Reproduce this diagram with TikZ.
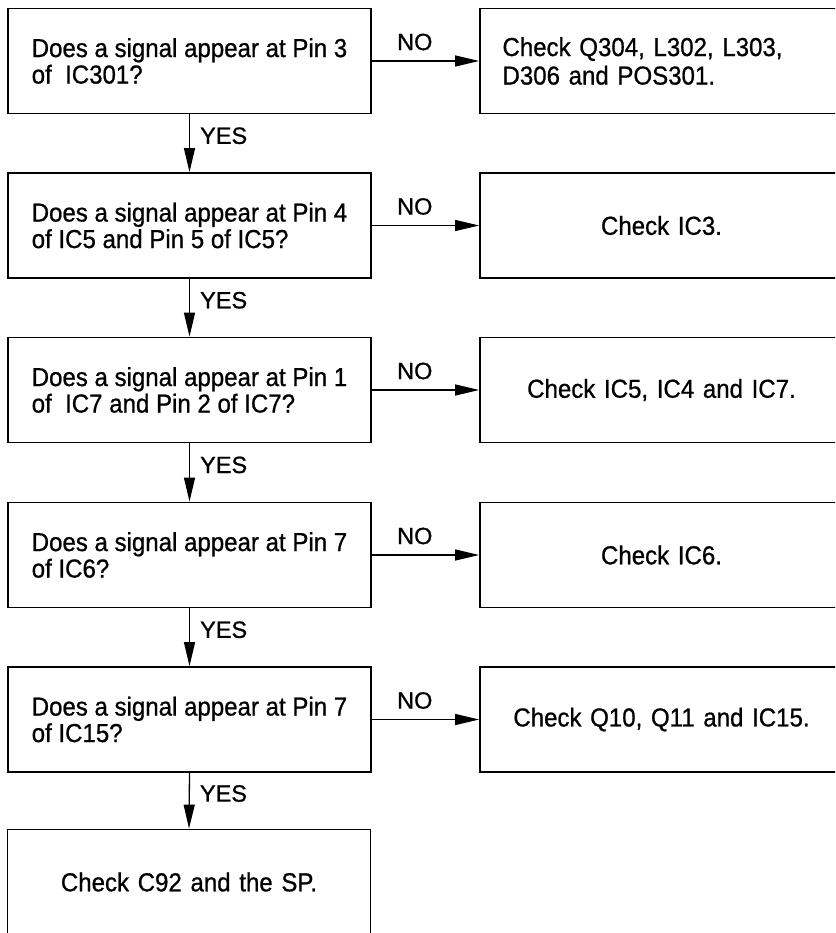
\documentclass[tikz,border=0pt]{standalone}
\usepackage{fontspec}
\setmainfont{Liberation Sans}[FakeBold=0.8]
\newfontfamily\boxfont{Liberation Sans}[FakeBold=0.8, FakeStretch=0.925]
\usetikzlibrary{arrows.meta}
\begin{document}
\begin{tikzpicture}[x=1pt,y=-1pt,
  box/.style={draw, line width=1.8pt, rectangle, minimum width=363pt, minimum height=105pt,
    inner xsep=0pt, inner ysep=0pt, font=\boxfont\fontsize{26}{26.5}\selectfont},
  qbox/.style={box, align=left},
  lbox/.style={box, text width=318pt, align=left, font=\boxfont\fontsize{26}{28.5}\selectfont},
  cbox/.style={box, text width=340pt, align=center},
  arr/.style={line width=1.3pt, -{Triangle[length=24pt,width=11pt]}},
  lab/.style={font=\fontsize{23.5}{25}\selectfont, inner sep=0pt}]
\useasboundingbox (0,0) rectangle (835,933);
\clip (0,0) rectangle (835,933);

\node[qbox] (q1) at (189.5,61) {Does a signal appear at Pin 3\\of\ \ IC301?};
\node[qbox] (q2) at (189.5,225.5) {Does a signal appear at Pin 4\\of IC5 and Pin 5 of IC5?};
\node[qbox] (q3) at (189.5,390) {Does a signal appear at Pin 1\\of\ \ IC7 and Pin 2 of IC7?};
\node[qbox] (q4) at (189.5,555) {Does a signal appear at Pin 7\\of IC6?};
\node[qbox] (q5) at (189.5,719.5) {Does a signal appear at Pin 7\\of IC15?};
\node[cbox] (q6) at (189,882) {Check C92 and the SP.};

\node[lbox] (r1) at (661.5,61) {Check Q304, L302, L303,\\D306 and POS301.};
\node[cbox] (r2) at (661.5,225.5) {Check IC3.};
\node[cbox] (r3) at (661.5,390) {Check IC5, IC4 and IC7.};
\node[cbox] (r4) at (661.5,555) {Check IC6.};
\node[cbox] (r5) at (661.5,719.5) {Check Q10, Q11 and IC15.};

\foreach \a/\b in {q1/q2,q2/q3,q3/q4,q4/q5,q5/q6}
  \draw[arr] (\a.south) -- node[lab, anchor=west, pos=0.37, xshift=10pt] {YES} (\b.north);
\foreach \a/\b in {q1/r1,q2/r2,q3/r3,q4/r4,q5/r5}
  \draw[arr] (\a.east) -- node[lab, pos=0.4, yshift=19pt] {NO} (\b.west);
\end{tikzpicture}
\end{document}
